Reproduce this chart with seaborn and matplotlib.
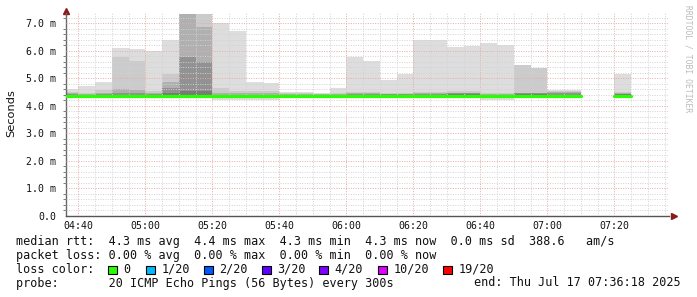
import numpy as np
import pandas as pd
import matplotlib
matplotlib.use("Agg")
import matplotlib.pyplot as plt
import seaborn as sns
from matplotlib.ticker import MultipleLocator
from matplotlib.patches import Rectangle

nan = np.nan
# bin start, minutes after 04:00 (5-minute steps)
bin_start = [35, 40, 45, 50, 55, 60, 65, 70, 75, 80, 85, 90, 95, 100, 105, 110, 115,
             120, 125, 130, 135, 140, 145, 150, 155, 160, 165, 170, 175, 180, 185, 190, 195, 200]
# smoke layers (ms)
smoke_max = [4.62, 4.71, 4.88, 6.10, 6.05, 5.99, 6.39, 7.33, 7.33, 7.00, 6.72, 4.88, 4.84, 4.50, 4.50, 4.47, 4.66,
             5.77, 5.62, 4.92, 5.14, 6.41, 6.39, 6.13, 6.17, 6.30, 6.20, 5.50, 5.37, 4.58, 4.58, nan, nan, 5.14]
smoke_l2 = [4.50, 4.45, 4.58, 5.77, 5.62, 4.55, 5.14, 7.33, 7.33, 4.65, 4.55, 4.55, 4.55, 4.45, 4.45, 4.44, 4.45,
            4.50, 4.50, 4.48, 4.48, 4.50, 4.50, 4.52, 4.52, 4.45, 4.45, 5.50, 5.37, 4.55, 4.55, nan, nan, 4.50]
smoke_l3 = [4.45, 4.42, 4.45, 4.60, 4.58, 4.45, 4.85, 7.33, 6.88, 4.45, 4.45, 4.45, 4.45, 4.42, 4.42, 4.42, 4.42,
            4.45, 4.45, 4.44, 4.44, 4.45, 4.45, 4.48, 4.48, 4.42, 4.42, 4.48, 4.48, 4.50, 4.50, nan, nan, 4.47]
smoke_l4 = [4.41, 4.40, 4.41, 4.45, 4.45, 4.41, 4.65, 5.77, 5.59, 4.40, 4.40, 4.40, 4.40, 4.40, 4.40, 4.40, 4.40,
            4.41, 4.41, 4.41, 4.41, 4.42, 4.42, 4.46, 4.46, 4.40, 4.40, 4.45, 4.45, 4.45, 4.45, nan, nan, 4.44]
smoke_l5 = [4.38, 4.38, 4.38, 4.40, 4.40, 4.38, 4.45, 4.55, 4.55, 4.37, 4.37, 4.37, 4.37, 4.37, 4.37, 4.37, 4.37,
            4.38, 4.38, 4.38, 4.38, 4.38, 4.38, 4.44, 4.44, 4.37, 4.37, 4.42, 4.42, 4.40, 4.40, nan, nan, 4.42]
smoke_min = [4.30, 4.31, 4.31, 4.31, 4.31, 4.31, 4.32, 4.33, 4.33, 4.22, 4.22, 4.22, 4.22, 4.32, 4.32, 4.32, 4.32,
             4.31, 4.31, 4.30, 4.30, 4.30, 4.30, 4.30, 4.30, 4.22, 4.22, 4.31, 4.31, 4.32, 4.32, nan, nan, 4.33]
median_rtt = [4.35, 4.35, 4.35, 4.35, 4.35, 4.35, 4.35, 4.36, 4.36, 4.345, 4.345, 4.345, 4.345, 4.35, 4.35, 4.35, 4.35,
              4.35, 4.35, 4.35, 4.35, 4.35, 4.35, 4.355, 4.355, 4.345, 4.345, 4.35, 4.35, 4.355, 4.355, nan, nan, 4.355]

x_ticks = [40, 60, 80, 100, 120, 140, 160, 180, 200]
x_labels = ["04:40", "05:00", "05:20", "05:40", "06:00", "06:20", "06:40", "07:00", "07:20"]
y_ticks = [0, 1, 2, 3, 4, 5, 6, 7]
y_labels = ["0.0", "1.0 m", "2.0 m", "3.0 m", "4.0 m", "5.0 m", "6.0 m", "7.0 m"]

legend_line1 = "median rtt:  4.3 ms avg  4.4 ms max  4.3 ms min  4.3 ms now  0.0 ms sd  388.6   am/s"
legend_line2 = "packet loss: 0.00 % avg  0.00 % max  0.00 % min  0.00 % now"
loss_labels = ["0", "1/20", "2/20", "3/20", "4/20", "10/20", "19/20"]
loss_colors = ["#26ff00", "#00b8ff", "#0059ff", "#5e00ff", "#7e00ff", "#dd00ff", "#ff0000"]
probe_text = "probe:       20 ICMP Echo Pings (56 Bytes) every 300s"
end_text = "end: Thu Jul 17 07:36:18 2025"

sns.set_theme(style="white")
plt.rcParams["font.family"] = ["DejaVu Sans Mono", "DejaVu Sans"]

W, H = 697, 297
fig = plt.figure(figsize=(W / 100, H / 100), dpi=100)
fig.patch.set_facecolor("white")
ax = fig.add_axes([66 / W, (H - 215.5) / H, (669 - 66) / W, (215.5 - 13) / H])
ax.set_facecolor("white")

starts = np.array(bin_start, dtype=float)
mx = np.array(smoke_max); mn = np.array(smoke_min); med = np.array(median_rtt)
# outer smoke layer
ax.bar(starts, mx - mn, bottom=mn, width=5, align="edge", color="#dddddd", linewidth=0, zorder=1)
layer_cols = ["#cbcbcb", "#b0b0b0", "#929292", "#7a7a7a"]
for arr, col in zip([smoke_l2, smoke_l3, smoke_l4, smoke_l5], layer_cols):
    a = np.array(arr)
    ax.bar(starts, a - med, bottom=med, width=5, align="edge", color=col, linewidth=0, zorder=1.1)

# median line segments via seaborn
rows = []
seg = 0
prev_valid = False
for i, (s, m) in enumerate(zip(bin_start, median_rtt)):
    if np.isnan(m):
        prev_valid = False
        continue
    if not prev_valid:
        seg += 1
    rows.append((s, m, seg))
    nxt_nan = (i + 1 >= len(median_rtt)) or np.isnan(median_rtt[i + 1])
    if nxt_nan:
        rows.append((s + 5, m, seg))
    prev_valid = True
df = pd.DataFrame(rows, columns=["t", "rtt", "seg"])
sns.lineplot(data=df, x="t", y="rtt", units="seg", estimator=None, drawstyle="steps-post",
             color="#26ff00", linewidth=2.3, ax=ax, legend=False, zorder=4)

ax.set_xlim(36.3, 216.3)
ax.set_ylim(0, 7.38)
ax.xaxis.set_major_locator(plt.FixedLocator(x_ticks))
ax.set_xticklabels(x_labels)
ax.xaxis.set_minor_locator(MultipleLocator(5))
ax.yaxis.set_major_locator(plt.FixedLocator(y_ticks))
ax.set_yticklabels(y_labels)
ax.yaxis.set_minor_locator(MultipleLocator(0.2))
ax.set_xlabel("")
ax.set_ylabel("")

ax.set_axisbelow(False)
ax.grid(which="minor", color="#d2d2d2", linestyle=(0, (1, 1.5)), linewidth=0.7, zorder=2)
ax.grid(which="major", color="#eaa8a8", linestyle=(0, (1, 1.5)), linewidth=0.7, zorder=2.1)

ax.tick_params(axis="both", which="major", labelsize=7.1, colors="#333333", labelcolor="#111111")
ax.tick_params(axis="y", which="major", length=3, width=0.7, pad=4, direction="out")
ax.tick_params(axis="y", which="minor", length=2, width=0.6, direction="out", left=True, colors="#666666")
ax.tick_params(axis="x", which="major", length=3, width=0.7, pad=2.5, direction="inout")
ax.tick_params(axis="x", which="minor", length=0)

for side in ["top", "right"]:
    ax.spines[side].set_visible(False)
ax.spines["left"].set_color("#666666")
ax.spines["left"].set_linewidth(1)
ax.spines["bottom"].set_color("#555555")
ax.spines["bottom"].set_linewidth(1)

# arrows
ax.plot([0], [1.01], marker="^", color="#8b1a1a", markersize=4, transform=ax.transAxes, clip_on=False)
ax.plot([1.008], [0], marker=">", color="#8b1a1a", markersize=4, transform=ax.transAxes, clip_on=False)

fig.text(11 / W, 1 - 113 / H, "Seconds", rotation=90, ha="center", va="center",
         fontsize=8.2, family="DejaVu Sans", color="#111111")
fig.text(688 / W, 1 - 5 / H, "RRDTOOL / TOBI OETIKER", rotation=270, ha="center", va="top",
         fontsize=5.8, color="#bbbbbb")

fs = 8.5
fig.text(16.5 / W, 1 - 241.5 / H, legend_line1, ha="left", va="center", fontsize=fs, color="#111111")
fig.text(16.5 / W, 1 - 255.3 / H, legend_line2, ha="left", va="center", fontsize=fs, color="#111111")
fig.text(16.5 / W, 1 - 269.3 / H, "loss color:", ha="left", va="center", fontsize=fs, color="#111111")
box_x = [108, 146, 204, 262, 319, 378, 443]
for bx, lab, col in zip(box_x, loss_labels, loss_colors):
    fig.patches.append(Rectangle((bx / W, 1 - 273.5 / H), 8.5 / W, 8 / H, transform=fig.transFigure,
                                 facecolor=col, edgecolor="black", linewidth=0.8, figure=fig))
    fig.text((bx + 15.5) / W, 1 - 269.3 / H, lab, ha="left", va="center", fontsize=fs, color="#111111")
fig.text(16.5 / W, 1 - 283 / H, probe_text, ha="left", va="center", fontsize=fs, color="#111111")
fig.text(681 / W, 1 - 283 / H, end_text, ha="right", va="center", fontsize=fs, color="#111111")

fig.savefig("out.png", dpi=100, facecolor="white")
